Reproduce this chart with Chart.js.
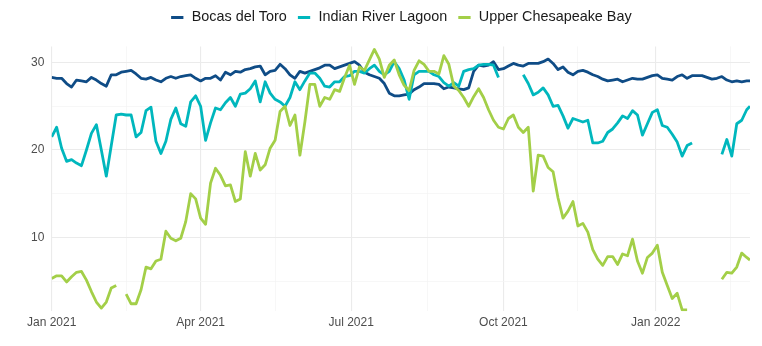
<!DOCTYPE html>
<html>
<head>
<meta charset="utf-8">
<title>Daily water temperature</title>
<script src="https://cdn.jsdelivr.net/npm/chart.js@4.4.1/dist/chart.umd.min.js"></script>
<style>
    html, body { margin: 0; padding: 0; background: #fff; }
    #wrap { width: 762px; height: 346px; }
</style>
</head>
<body>
<div id="wrap"><canvas id="temps" width="762" height="346"></canvas></div>
<script>
// one reading every third day from 1 Jan 2021, last one on 27 Feb 2022
let days = [];
for (let d = 0; d <= 420; d += 3) days.push(d);
days.push(422);

let bocasDelToro = [
    28.3, 28.2, 28.2, 27.6, 27.2, 28.0, 27.9, 27.8, 28.3, 28.0,
    27.6, 27.3, 28.6, 28.6, 28.9, 29.0, 29.1, 28.7, 28.2, 28.1,
    28.3, 28.0, 27.8, 28.2, 28.4, 28.2, 28.4, 28.5, 28.6, 28.2,
    27.9, 28.2, 28.2, 28.5, 28.0, 28.9, 28.6, 29.0, 28.9, 29.2,
    29.3, 29.5, 29.6, 28.6, 29.0, 29.1, 29.8, 29.3, 28.6, 28.2,
    29.0, 28.8, 29.0, 29.2, 29.4, 29.7, 29.7, 29.3, 29.5, 29.7,
    29.9, 30.1, 29.7, 28.9, 28.6, 28.4, 28.2, 27.6, 26.5, 26.2,
    26.2, 26.3, 26.4, 26.9, 27.2, 27.6, 27.6, 27.6, 27.5, 27.0,
    27.2, 27.1, 27.0, 26.9, 27.1, 29.0, 29.7, 29.6, 29.7, 30.1,
    29.2, 29.3, 29.6, 29.9, 29.7, 29.6, 29.9, 29.9, 29.9, 30.1,
    30.4, 29.9, 29.2, 29.5, 28.9, 28.6, 29.0, 29.1, 28.9, 28.6,
    28.4, 28.1, 27.9, 28.0, 28.1, 27.8, 28.0, 28.2, 28.1, 28.1,
    28.3, 28.5, 28.6, 28.2, 28.1, 28.0, 28.4, 28.6, 28.2, 28.5,
    28.5, 28.5, 28.3, 28.1, 28.2, 28.4, 28.0, 27.8, 27.9, 27.8,
    27.9, 27.9
];

let indianRiverLagoon = [
    21.5, 22.6, 20.2, 18.7, 18.9, 18.5, 18.2, 20.0, 21.9, 22.9,
    20.0, 17.0, 20.5, 24.0, 24.1, 24.0, 24.0, 21.5, 22.0, 24.5,
    24.9, 21.0, 19.6, 21.0, 23.5, 24.8, 23.0, 22.7, 25.5, 26.2,
    25.0, 21.1, 23.1, 24.8, 24.6, 25.4, 26.0, 25.0, 26.4, 26.5,
    27.0, 27.9, 25.5, 27.8, 26.5, 25.8, 25.5, 25.0, 26.0, 27.8,
    26.9, 27.9, 28.8, 28.8, 28.2, 27.3, 27.2, 27.8, 27.8, 28.4,
    28.5, 29.0, 29.0, 28.8, 29.3, 29.7, 29.0, 28.6, 29.0, 30.1,
    29.3, 28.0, 25.8, 28.6, 29.0, 29.0, 29.0, 28.6, 28.4, 27.7,
    27.3, 27.7, 27.3, 29.0, 29.2, 29.3, 29.7, 29.8, 29.8, 29.7,
    28.3, null, null, null, null, 28.6, 27.6, 26.3, 26.6, 27.1,
    26.3, 25.0, 25.1, 23.9, 22.5, 23.6, 23.4, 23.2, 23.4, 20.8,
    20.8, 21.0, 22.0, 22.4, 23.1, 23.9, 23.6, 24.5, 24.0, 21.7,
    23.0, 24.3, 24.6, 22.8, 22.6, 21.8, 20.9, 19.3, 20.5, 20.8,
    null, null, null, null, null, 19.5, 21.2, 19.3, 23.0, 23.4,
    24.6, 25.0
];

let upperChesapeakeBay = [
    5.3, 5.6, 5.6, 4.9, 5.5, 6.0, 6.1, 5.1, 3.8, 2.6,
    1.9, 2.6, 4.2, 4.5, null, 3.5, 2.4, 2.4, 4.0, 6.6,
    6.4, 7.3, 7.5, 10.7, 9.9, 9.6, 9.9, 11.8, 15.0, 14.4,
    12.2, 11.5, 16.2, 17.9, 17.1, 15.9, 16.0, 14.1, 14.4, 19.8,
    17.0, 19.6, 17.7, 18.3, 20.2, 21.1, 24.4, 25.0, 22.8, 24.0,
    19.4, 23.2, 27.5, 27.5, 25.0, 26.0, 25.8, 26.9, 26.7, 28.3,
    29.7, 27.5, 29.5, 29.1, 30.3, 31.5, 30.4, 28.3, 29.7, 30.3,
    28.6, 27.4, 26.8, 29.1, 30.2, 29.8, 29.0, 29.0, 28.7, 30.8,
    29.8, 27.3, 26.8, 26.0, 25.0, 26.1, 27.0, 26.0, 24.6, 23.4,
    22.6, 22.4, 23.6, 24.0, 22.6, 22.0, 22.6, 15.3, 19.4, 19.3,
    18.0, 17.5, 14.5, 12.2, 13.0, 14.1, 11.3, 11.6, 10.6, 8.6,
    7.5, 6.8, 7.8, 7.8, 6.9, 8.1, 7.9, 9.8, 7.3, 5.9,
    7.7, 8.2, 9.1, 6.0, 4.5, 3.0, 3.6, 1.7, 1.7, null,
    null, null, null, null, null, 5.2, 6.0, 5.9, 6.6, 8.2,
    7.7, 7.4
];

let siteNames = ['Bocas del Toro', 'Indian River Lagoon', 'Upper Chesapeake Bay'];
let siteColors = ['#0f4c86', '#00b7bd', '#a3cf48'];

// x axis counts days since 1 Jan 2021
let monthDays = [0, 90, 181, 273, 365];
let monthLabels = ['Jan 2021', 'Apr 2021', 'Jul 2021', 'Oct 2021', 'Jan 2022'];
let midMonthDays = [45, 135, 227, 318, 410];
let tempTicks = [10, 20, 30];
let tempMinorTicks = [5, 15, 25];

Chart.defaults.font.family = "'Liberation Sans', Arial, Helvetica, sans-serif";


function toPoints(values) {
    return values.map((v, i) => ({ x: days[i], y: v }));
}


// centre the legend over the plotting panel and lift it closer to the top
const legendOverPanel = {
    id: 'legendOverPanel',
    afterLayout(chart) {
        let legend = chart.legend;
        legend.left = chart.chartArea.left;
        legend.right = chart.chartArea.right;
        legend.top -= 11.7;
        legend.bottom -= 11.7;
    }
};


function displayTempChart() {
    let tempChart = document.querySelector('#temps').getContext('2d');
    let series = [bocasDelToro, indianRiverLagoon, upperChesapeakeBay];

    new Chart(tempChart, {
        type: 'line',
        data: {
            datasets: series.map((values, i) => ({
                label: siteNames[i],
                data: toPoints(values),
                borderColor: siteColors[i],
                backgroundColor: siteColors[i],
                borderWidth: 2.8,
                pointRadius: 0,
                pointHoverRadius: 0,
                pointBorderWidth: 3,
                tension: 0,
                spanGaps: false,
                borderJoinStyle: 'round',
                fill: false,
                order: series.length - 1 - i
            }))
        },
        options: {
            responsive: false,
            animation: false,
            devicePixelRatio: 1,
            layout: {
                padding: { top: 12, right: 12, bottom: 12.4, left: 0 }
            },
            plugins: {
                legend: {
                    position: 'top',
                    labels: {
                        usePointStyle: true,
                        pointStyle: 'line',
                        boxWidth: 17,
                        boxHeight: 8.7,
                        padding: 10,
                        color: '#1a1a1a',
                        font: { size: 14.4 },
                        sort: (a, b) => a.datasetIndex - b.datasetIndex
                    }
                },
                tooltip: { enabled: false }
            },
            scales: {
                x: {
                    type: 'linear',
                    min: 0,
                    max: 422,
                    afterBuildTicks: scale => {
                        scale.ticks = monthDays.concat(midMonthDays)
                            .sort((a, b) => a - b)
                            .map(v => ({ value: v }));
                    },
                    ticks: {
                        autoSkip: false,
                        maxRotation: 0,
                        padding: 4,
                        color: '#4d4d4d',
                        font: { size: 12 },
                        callback: value => {
                            let i = monthDays.indexOf(value);
                            return i >= 0 ? monthLabels[i] : '';
                        }
                    },
                    grid: {
                        drawTicks: false,
                        color: ctx => midMonthDays.includes(ctx.tick.value) ? '#f4f4f4' : '#ebebeb',
                        lineWidth: ctx => midMonthDays.includes(ctx.tick.value) ? 0.7 : 1.1
                    },
                    border: { display: false }
                },
                y: {
                    min: 1.55,
                    max: 31.85,
                    afterBuildTicks: scale => {
                        scale.ticks = tempTicks.concat(tempMinorTicks)
                            .sort((a, b) => a - b)
                            .map(v => ({ value: v }));
                    },
                    afterFit: scale => {
                        scale.width = 51.7;
                    },
                    ticks: {
                        padding: 7.4,
                        color: '#4d4d4d',
                        font: { size: 12 },
                        callback: value => tempTicks.includes(value) ? String(value) : ''
                    },
                    grid: {
                        drawTicks: false,
                        color: ctx => tempMinorTicks.includes(ctx.tick.value) ? '#f4f4f4' : '#ebebeb',
                        lineWidth: ctx => tempMinorTicks.includes(ctx.tick.value) ? 0.7 : 1.1
                    },
                    border: { display: false }
                }
            }
        },
        plugins: [legendOverPanel]
    });
}
displayTempChart();
</script>
</body>
</html>
